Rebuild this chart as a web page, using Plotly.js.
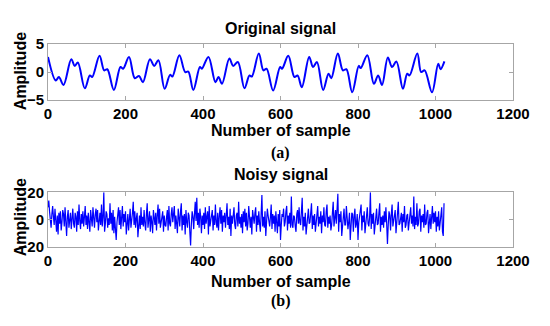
<!DOCTYPE html>
<html>
<head>
<meta charset="utf-8">
<script src="https://cdn.plot.ly/plotly-3.0.1.min.js"></script>
<style>html,body{margin:0;padding:0;background:#fff}#chart{width:550px;height:326px}</style>
</head>
<body>
<div id="chart"></div>
<script>
// Original signal: key points (sample index, amplitude)
var origX = [0,20,28,40,60,69,77,95,108,114,133,145,153,170,187,194,209,224,235,245,263,274,285,301,315,321,339,354,362,375,392,397,414,432,440,449,468,478,490,507,520,526,544,556,564,581,599,604,620,636,644,655,674,684,694,710,724,731,748,761,770,785,802,807,824,841,852,862,877,888,899,916,927,933,953,963,972,991,1007,1013,1023];
var origY = [2.7,-1.5,-0.9,-2.3,2.3,1.1,1.7,-2.9,-0.6,-0.9,2.9,0.3,0.5,-3.2,0.9,0.6,2.7,-1.1,-0.7,-1.8,2.3,1.1,2.1,-3.0,-0.5,-0.8,3.0,0.0,0.1,-3.2,0.9,0.6,2.7,-1.8,-0.9,-2.1,2.4,1.1,1.8,-2.9,-0.6,-0.8,3.3,0.3,0.6,-3.3,0.9,0.6,2.9,-0.9,-0.6,-2.7,2.7,0.9,1.8,-3.2,-0.3,-1.1,3.3,0.3,0.5,-3.6,1.1,0.7,3.0,-2.1,-0.6,-2.3,2.6,0.9,1.9,-3.0,-0.3,-0.6,3.3,0.0,0.3,-3.6,1.5,0.5,1.9];

// Noisy signal: one value every 2 samples
var noisyStep = 2;
var noisyY = [
 9,14,6,-3,-6,4,10,2,-4,8,-2,-9,3,-11,5,-3,
 6,-8,-2,7,4,-5,9,-3,-12,2,7,-6,1,5,-7,3,
 8,-3,-6,5,2,-9,6,-4,11,-1,-7,4,-3,6,-5,2,
 10,-4,3,-7,5,-2,-9,7,1,-5,9,-3,-6,4,8,-2,
 7,-8,3,5,-4,11,-5,2,20,-9,-3,6,4,-6,1,-4,
 12,-3,5,-8,7,-10,2,-5,-15,-2,3,9,-4,7,-7,2,
 10,-5,4,-2,6,-11,-3,4,-8,2,8,-6,-2,5,13,-4,
 6,-6,1,5,-13,-2,3,-7,9,-4,2,-5,7,-3,-8,4,
 12,-6,2,6,-9,3,-2,-10,7,1,-4,5,-8,3,11,-3,
 8,-6,-2,4,6,-9,3,-4,-5,2,7,-8,10,-3,-5,4,
 9,-2,5,10,-7,3,-3,-10,8,2,-5,6,12,-8,3,-4,
 4,-11,7,-2,-6,5,3,-9,-19,-3,6,2,-7,4,13,-1,
 16,-4,5,-6,8,2,-10,3,-4,5,-7,9,-3,2,6,-11,
 10,-5,-2,4,7,-8,3,-4,11,-2,-6,5,-8,2,9,-3,
 7,-9,3,-2,5,-6,4,12,-4,2,-7,8,-12,3,-3,6,
 9,-4,-7,3,5,-5,13,-3,2,-6,4,-10,6,-2,8,-5,
 5,-8,-3,10,4,-6,2,-11,7,-2,-3,5,9,-9,3,-4,
 6,-3,-9,4,18,-5,2,-6,6,-12,-2,8,3,-4,-5,2,
 11,-7,4,-3,3,-9,6,-2,-10,4,-5,7,-15,-4,4,2,
 8,-5,-2,6,10,-8,3,-3,5,-6,17,-4,-6,3,2,-5,
 -9,4,7,-3,9,-2,-4,6,16,-8,2,-5,5,-11,-3,4,
 8,-3,-2,5,12,-7,3,-4,4,-9,-2,6,10,-5,2,-3,
 6,-10,3,-2,9,-4,-5,6,11,-6,2,-3,3,-8,-4,5,
 13,-5,2,7,-3,6,19,-9,4,-2,6,-12,-3,2,8,-4,
 -4,10,3,-7,-2,5,-15,-3,5,4,-9,2,8,-6,-3,4,
 -15,-2,4,6,11,-8,3,-2,6,-10,-4,3,9,-3,-5,2,
 20,-7,4,-3,5,-11,-2,6,8,-4,-3,5,12,-9,2,-4,
 3,-6,6,-2,9,-3,-18,-4,6,3,-8,4,11,-5,-2,4,
 7,-10,2,5,13,-4,-3,3,5,-9,4,-2,10,-6,-4,3,
 4,-8,-2,6,9,-3,3,-5,17,-7,2,-4,12,-5,-3,6,
 8,-9,3,-2,4,-6,11,-4,-3,5,7,-10,2,4,-7,3,
 10,-3,5,-2,6,-9,2,-5,6,-8,-3,5,9,-9,-12,12
];
var noisyX = noisyY.map(function(_, i){ return Math.min(i * noisyStep, 1023); });

var xTicks = [0,200,400,600,800,1000,1200];
var yTicksTop = [-5,0,5];
var yTicksBottom = [-20,0,20];

var FONT = "Liberation Sans, Arial, sans-serif";
var SERIF = "Liberation Serif, Times New Roman, serif";
var tickFont = {family: FONT, size: 15, color: '#000', weight: 'bold'};

function axisBase() {
  return {
    showgrid: false, zeroline: false,
    showline: true, linecolor: '#a6a6a6', linewidth: 1, mirror: 'ticks',
    ticks: 'inside', ticklen: 4, tickcolor: '#a6a6a6', tickwidth: 1,
    tickfont: tickFont
  };
}

var traces = [
  {x: origX, y: origY, type: 'scatter', mode: 'lines', xaxis: 'x', yaxis: 'y',
   line: {color: '#0000ff', width: 2, shape: 'spline', smoothing: 1}},
  {x: noisyX, y: noisyY, type: 'scatter', mode: 'lines', xaxis: 'x2', yaxis: 'y2',
   line: {color: '#0000ff', width: 1.2}}
];

var xa = Object.assign(axisBase(), {range: [0,1200], tickvals: xTicks, domain: [0,1], anchor: 'y'});
var xa2 = Object.assign(axisBase(), {range: [0,1200], tickvals: xTicks, domain: [0,1], anchor: 'y2'});
var ya = Object.assign(axisBase(), {range: [-5,5], tickvals: yTicksTop, domain: [0.693,0.865], anchor: 'x'});
var ya2 = Object.assign(axisBase(), {range: [-20,20], tickvals: yTicksBottom, domain: [0.243,0.410], anchor: 'x2'});

function ann(text, x, y, opts) {
  return Object.assign({text: text, x: x, y: y, xref: 'paper', yref: 'paper',
    showarrow: false, xanchor: 'center', yanchor: 'middle',
    font: {family: FONT, size: 16, color: '#000', weight: 'bold'}}, opts || {});
}
var axTitleFont = {family: FONT, size: 16, color: '#000', weight: 'bold'};
var capFont = {family: SERIF, size: 16, color: '#000', weight: 'bold'};

var layout = {
  width: 550, height: 326,
  margin: {l: 48, r: 37, t: 0, b: 0},
  paper_bgcolor: '#fff', plot_bgcolor: '#fff',
  showlegend: false,
  xaxis: xa, yaxis: ya, xaxis2: xa2, yaxis2: ya2,
  annotations: [
    ann('Original signal', 0.5, 0.914),
    ann('Number of sample', 0.5, 0.600, {font: axTitleFont}),
    ann('(a)', 0.5, 0.530, {font: capFont}),
    ann('Noisy signal', 0.5, 0.465),
    ann('Number of sample', 0.5, 0.137, {font: axTitleFont}),
    ann('(b)', 0.5, 0.078, {font: capFont}),
    ann('Amplitude', -0.060, 0.782, {textangle: -90}),
    ann('Amplitude', -0.060, 0.334, {textangle: -90})
  ]
};

Plotly.newPlot('chart', traces, layout, {staticPlot: true, displayModeBar: false});
</script>
</body>
</html>
